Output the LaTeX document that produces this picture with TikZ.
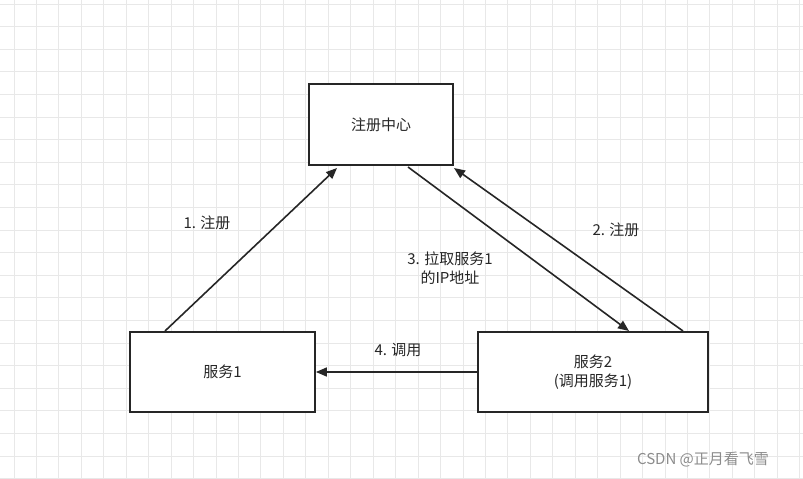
\documentclass[tikz,border=0pt]{standalone}
\usepackage{fontspec}
\setmainfont{Noto Sans CJK SC}
\usetikzlibrary{arrows.meta}
\begin{document}
\begin{tikzpicture}[x=1pt,y=-1pt,
  box/.style={draw=black!85,line width=1.8pt,fill=white,inner sep=0pt},
  arr/.style={draw=black!85,line width=1.6pt,-{Triangle[length=11pt,width=9pt]}},
  lbl/.style={font=\fontsize{15}{19}\selectfont,text=black!85,align=center}]
\useasboundingbox (0,0) rectangle (803,479);
\fill[white] (0,0) rectangle (803,479);
\foreach \i in {0,...,35}{\draw[black!9,line width=1pt] ({14+22.45*\i},0) -- ({14+22.45*\i},479);}
\foreach \j in {0,...,21}{\draw[black!9,line width=1pt] (0,{4+22.6*\j}) -- (803,{4+22.6*\j});}
\node[box,minimum width=144pt,minimum height=81pt,lbl] (reg) at (381,124.5) {注册中心};
\node[box,minimum width=185pt,minimum height=80pt,lbl] (s1) at (222.5,372) {服务1};
\node[box,minimum width=230pt,minimum height=80pt,lbl] (s2) at (593,372) {服务2\\(调用服务1)};
\coordinate (a1) at (165,331); \coordinate (b1) at (337,168);
\coordinate (a2) at (683,331); \coordinate (b2) at (454,168);
\coordinate (a3) at (408,167); \coordinate (b3) at (629,331);
\draw[arr] (a1) -- (b1);
\draw[arr] (a2) -- (b2);
\draw[arr] (a3) -- (b3);
\draw[arr] (s2.west) -- (s1.east);
\node[lbl] (l1) at (207,223) {1. 注册};
\node[lbl] (l2) at (616,230) {2. 注册};
\node[lbl] (l3) at (450,268) {3. 拉取服务1\\的IP地址};
\node[lbl] (l4) at (398,350) {4. 调用};
\node[font=\fontsize{15}{18}\selectfont,text=black!45] (wm) at (703,460) {CSDN @正月看飞雪};
\end{tikzpicture}
\end{document}
